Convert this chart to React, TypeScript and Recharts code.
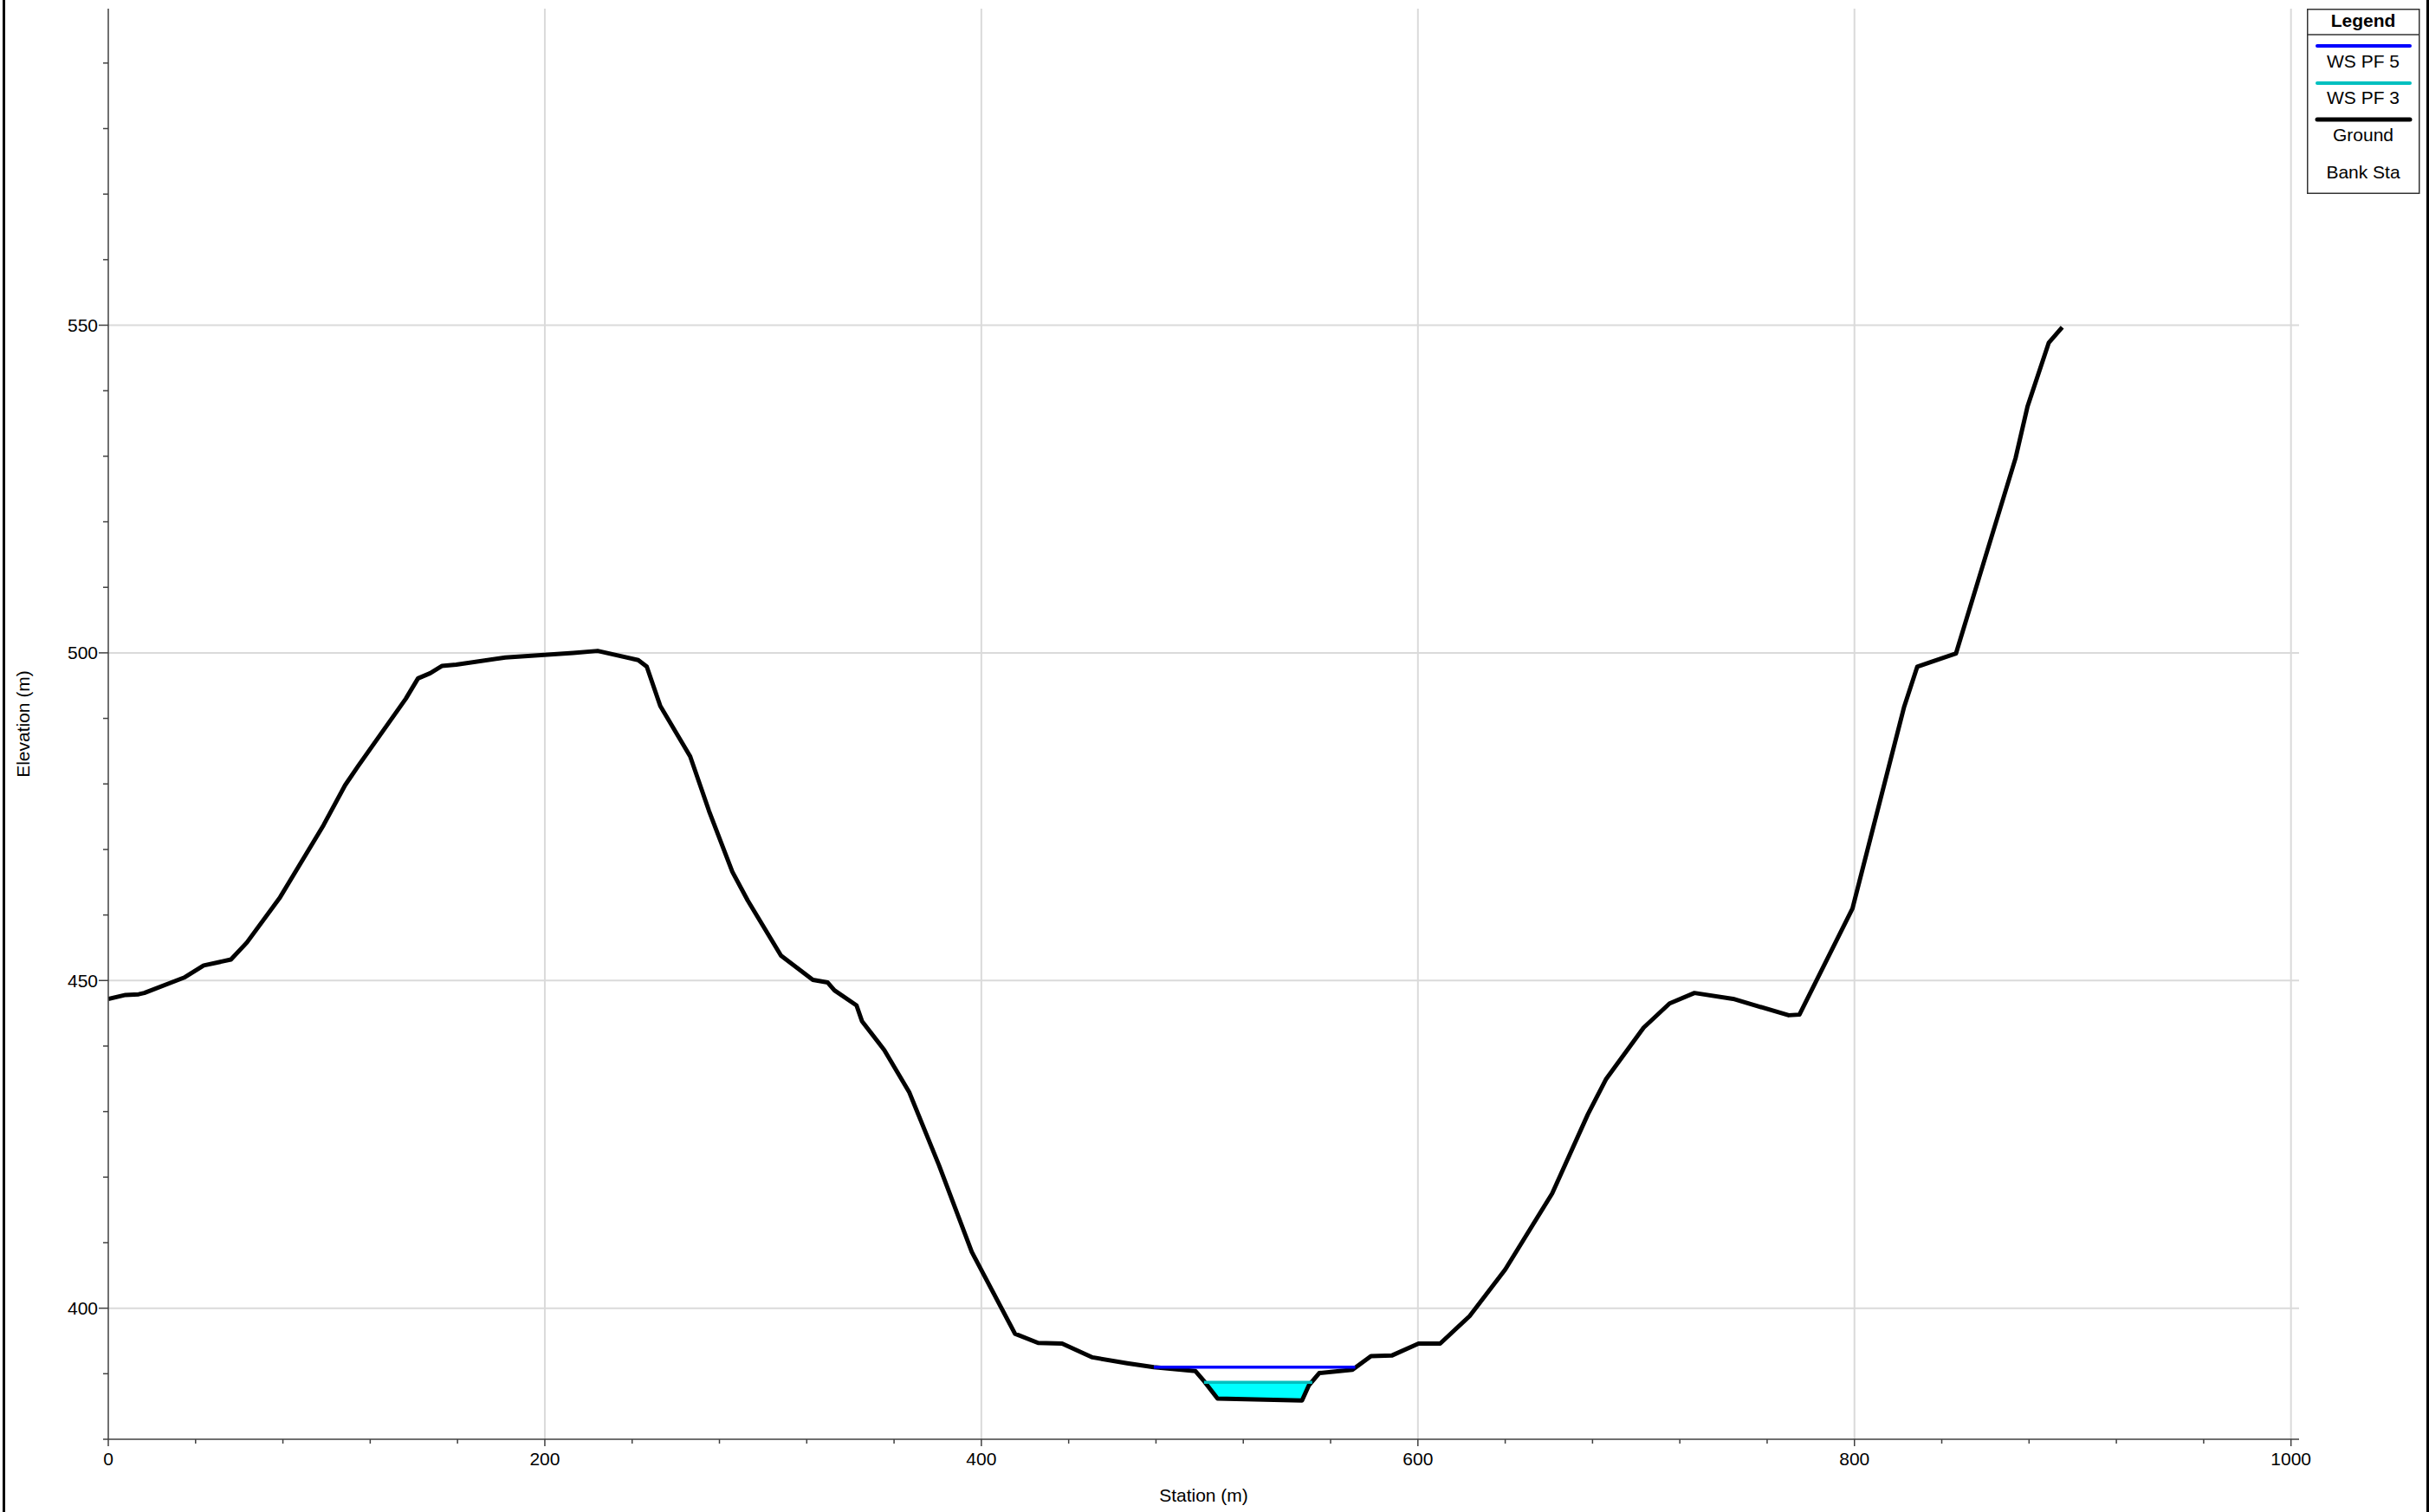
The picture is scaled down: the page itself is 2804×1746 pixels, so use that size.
import { ComposedChart, Line, Area, XAxis, YAxis, CartesianGrid } from 'recharts';

const FONT = '"Liberation Sans", Arial, sans-serif';

// ground profile: station (m) and elevation (m)
const groundStation = [
  0, 7.9, 13.9, 16.5, 35.1, 43.7, 56.2, 63.5, 78.7, 98.6, 108.5, 114.4, 136.3, 141.9, 147.5, 152.8,
  159.4, 181.9, 213.0, 224.2, 242.8, 246.7, 252.9, 266.6, 275.2, 285.9, 293.0, 308.2, 322.8, 329.6,
  332.7, 342.8, 345.3, 355.5, 366.9, 380.6, 395.6, 415.4, 426.0, 437.0, 450.9, 466.8, 479.0, 498.1,
  502.2, 508.2, 546.9, 550.0, 554.8, 570.0, 578.5, 588.2, 600.3, 610.2, 623.7, 640.0, 661.5, 677.9,
  686.1, 703.4, 715.3, 726.7, 744.4, 769.9, 774.8, 799.1, 822.8, 828.8, 846.5, 873.8, 879.3, 889.0,
  895.2,
];
const groundElevation = [
  447.2, 447.8, 447.9, 448.1, 450.5, 452.3, 453.2, 455.8, 462.7, 473.7, 479.8, 482.7, 493.0, 496.1,
  496.9, 498.0, 498.2, 499.3, 500.0, 500.3, 498.9, 497.9, 491.9, 484.2, 475.9, 466.6, 462.2, 453.8,
  450.1, 449.7, 448.5, 446.2, 443.8, 439.4, 433.0, 421.8, 408.6, 396.1, 394.7, 394.6, 392.5, 391.6,
  391.0, 390.4, 388.8, 386.2, 385.9, 388.2, 390.1, 390.6, 392.7, 392.8, 394.6, 394.6, 398.8, 405.9,
  417.5, 429.6, 434.9, 442.8, 446.5, 448.1, 447.2, 444.7, 444.8, 461.0, 491.8, 497.9, 499.9, 529.7,
  537.6, 547.3, 549.7,
];

// water surfaces
const wsPf5Station = [479.0, 571.3];
const wsPf5Elevation = 391.0;
const wsPf3Station = [502.0, 551.6];
const wsPf3Elevation = 388.7;

// wetted area under WS PF 3 (ground at each station)
const fillStation = [502.3, 508.2, 546.9, 550.0, 551.4];
const fillGround = [388.7, 386.2, 385.9, 388.2, 388.7];

// axes
const xMajor = [0, 200, 400, 600, 800, 1000];
const yMajor = [400, 450, 500, 550];
const range = (a: number, b: number, step: number) =>
  Array.from({ length: Math.round((b - a) / step) + 1 }, (_, i) => a + i * step);
const xTicks = range(0, 1000, 40);
const yTicks = range(380, 590, 10);

const ground = groundStation.map((st, i) => ({ st, elev: groundElevation[i] }));
const wsPf5 = wsPf5Station.map((st) => ({ st, elev: wsPf5Elevation }));
const wsPf3 = wsPf3Station.map((st) => ({ st, elev: wsPf3Elevation }));
const wetted = fillStation.map((st, i) => ({ st, band: [fillGround[i], wsPf3Elevation] }));

const AXIS = '#404040';

const XTick = (props: any) => {
  const { x, y, payload } = props;
  const major = xMajor.includes(payload.value);
  return (
    <g>
      <line x1={x} x2={x} y1={y} y2={y + (major ? 8 : 5)} stroke={AXIS} strokeWidth={1.5} />
      {major && (
        <text x={x} y={y + 30} textAnchor="middle" fontSize={21} fontFamily={FONT} fill="#000">
          {payload.value}
        </text>
      )}
    </g>
  );
};

const YTick = (props: any) => {
  const { x, y, payload } = props;
  const major = yMajor.includes(payload.value);
  return (
    <g>
      <line x1={x - (major ? 11 : 6)} x2={x} y1={y} y2={y} stroke={AXIS} strokeWidth={1.5} />
      {major && (
        <text x={x - 12} y={y} dy="0.36em" textAnchor="end" fontSize={21} fontFamily={FONT} fill="#000">
          {payload.value}
        </text>
      )}
    </g>
  );
};

const legendItems = [
  { name: 'WS PF 5', color: '#0000ff', width: 4, lineY: 43, textY: 67.5 },
  { name: 'WS PF 3', color: '#00c0c0', width: 4, lineY: 86, textY: 109.5 },
  { name: 'Ground', color: '#000000', width: 5, lineY: 128, textY: 153 },
  { name: 'Bank Sta', color: null, width: 0, lineY: 0, textY: 195.5 },
];

function LegendBox() {
  return (
    <svg width={131} height={215} style={{ position: 'absolute', left: 2663, top: 10 }}>
      <rect x={0.75} y={0.75} width={129} height={212.5} fill="#fff" stroke="#333" strokeWidth={1.5} />
      <text x={65} y={20.5} textAnchor="middle" fontSize={21} fontWeight="bold" fontFamily={FONT}>
        Legend
      </text>
      <line x1={0} x2={130} y1={30} y2={30} stroke="#333" strokeWidth={1.5} />
      {legendItems.map((it) => (
        <g key={it.name}>
          {it.color && (
            <line x1={12} x2={119} y1={it.lineY} y2={it.lineY} stroke={it.color} strokeWidth={it.width} strokeLinecap="round" />
          )}
          <text x={65} y={it.textY} textAnchor="middle" fontSize={21} fontFamily={FONT}>
            {it.name}
          </text>
        </g>
      ))}
    </svg>
  );
}

export default function App() {
  return (
    <div style={{ position: 'absolute', left: 0, top: 0, width: 2804, height: 1746, background: '#fff', fontFamily: FONT }}>
      <ComposedChart width={2804} height={1746} margin={{ top: 10, right: 150, bottom: 0, left: 0 }}>
        <CartesianGrid
          stroke="#dadada"
          strokeWidth={2}
          horizontalValues={yMajor}
          verticalValues={xMajor.filter((v) => v > 0)}
        />
        <XAxis
          dataKey="st"
          type="number"
          domain={[0, 1003.7]}
          allowDataOverflow
          ticks={xTicks}
          interval={0}
          height={84}
          tickSize={0}
          tickMargin={0}
          tickLine={false}
          tick={<XTick />}
          axisLine={{ stroke: AXIS, strokeWidth: 1.5 }}
          label={() => (
            <text x={1389.5} y={1734} textAnchor="middle" fontSize={21} fontFamily={FONT} fill="#000">
              Station (m)
            </text>
          )}
        />
        <YAxis
          type="number"
          domain={[380, 598.3]}
          allowDataOverflow
          ticks={yTicks}
          interval={0}
          width={125}
          tickSize={0}
          tickMargin={0}
          tickLine={false}
          tick={<YTick />}
          axisLine={{ stroke: AXIS, strokeWidth: 1.5 }}
          label={() => (
            <text transform="translate(34,836) rotate(-90)" textAnchor="middle" fontSize={21} fontFamily={FONT} fill="#000">
              Elevation (m)
            </text>
          )}
        />
        <Area
          data={wetted}
          dataKey="band"
          type="linear"
          stroke="none"
          fill="#00ffff"
          fillOpacity={1}
          isAnimationActive={false}
        />
        <Line
          data={ground}
          dataKey="elev"
          type="linear"
          stroke="#000"
          strokeWidth={5}
          strokeLinejoin="round"
          dot={false}
          isAnimationActive={false}
        />
        <Line
          data={wsPf3}
          dataKey="elev"
          type="linear"
          stroke="#00c0c0"
          strokeWidth={3.5}
          dot={false}
          isAnimationActive={false}
        />
        <Line
          data={wsPf5}
          dataKey="elev"
          type="linear"
          stroke="#0000ff"
          strokeWidth={3.5}
          dot={false}
          isAnimationActive={false}
        />
      </ComposedChart>
      <div style={{ position: 'absolute', left: 3, top: 0, width: 3, height: 1746, background: '#000' }} />
      <div style={{ position: 'absolute', left: 2801, top: 0, width: 3, height: 1746, background: '#000' }} />
      <LegendBox />
    </div>
  );
}
